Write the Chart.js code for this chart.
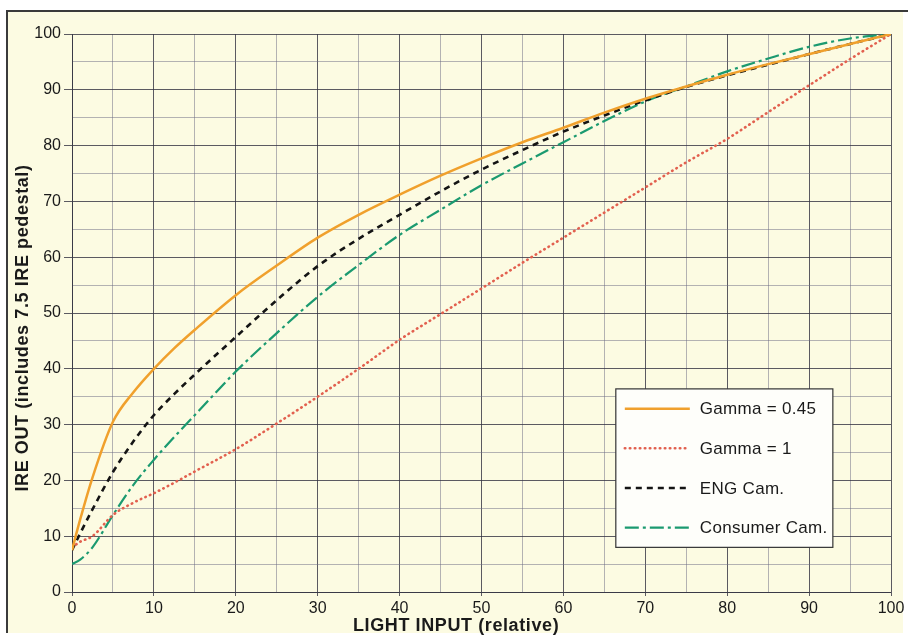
<!DOCTYPE html>
<html>
<head>
<meta charset="utf-8">
<script src="https://cdn.jsdelivr.net/npm/chart.js@4.4.1/dist/chart.umd.min.js"></script>
<style>
  html, body { margin: 0; padding: 0; background: #fff; }
  #wrap { width: 908px; height: 636px; position: relative; }
</style>
</head>
<body>
<div id="wrap"><canvas id="gammaChart"></canvas></div>
<script>
// values
const lightInput  = [0, 1, 2.5, 5, 7.5, 10, 12.5, 15, 20, 25, 30, 35, 40, 45, 50, 55, 60, 65, 70, 75, 80, 85, 90, 95, 100];
const gamma045    = [7.5, 13, 20.5, 30.5, 35.8, 40, 43.7, 47, 53.2, 58.5, 63.5, 67.6, 71.2, 74.6, 77.7, 80.6, 83.2, 85.9, 88.4, 90.6, 92.7, 94.6, 96.4, 98.2, 100];
const gamma1      = [8, 9, 10, 13.8, 16, 17.7, 19.6, 21.6, 25.6, 30.2, 35, 40, 45.2, 49.8, 54.4, 59, 63.5, 68, 72.5, 77, 81.2, 86, 90.8, 95.5, 100];
const engCam      = [7.5, 10.5, 14.8, 21.5, 27, 31.7, 35.5, 39, 45.7, 52.3, 58.4, 63.3, 67.6, 71.8, 75.7, 79.2, 82.5, 85.4, 88.1, 90.5, 92.6, 94.5, 96.4, 98.2, 100];
const consumerCam = [5, 5.8, 8, 13.8, 19.2, 23.7, 27.8, 31.7, 39.5, 46.4, 52.9, 58.6, 64, 68.5, 72.9, 76.8, 80.6, 84.4, 87.9, 90.6, 93.3, 95.6, 97.7, 99.2, 100];

const seriesLabels = ["Gamma = 0.45", "Gamma = 1", "ENG Cam.", "Consumer Cam."];
const majorTicks = [0, 10, 20, 30, 40, 50, 60, 70, 80, 90, 100];
const minorTicks = [5, 15, 25, 35, 45, 55, 65, 75, 85, 95];

const xTitle = "LIGHT INPUT (relative)";
const yTitle = "IRE OUT (includes 7.5 IRE pedestal)";

const FONT = "'Liberation Sans', Arial, Helvetica, sans-serif";

function toPoints(ys){
  return lightInput.map((x, i) => ({ x: x, y: ys[i] }));
}

function buildTicks(scale){
  scale.ticks = majorTicks.concat(minorTicks)
    .sort((a, b) => a - b)
    .map(v => ({ value: v }));
}

function isMajor(v){
  return majorTicks.indexOf(v) !== -1;
}

const paperPlugin = {
  id: "paper",
  beforeDraw(chart){
    const ctx = chart.ctx;
    ctx.save();
    ctx.fillStyle = "#ffffff";
    ctx.fillRect(0, 0, chart.width, chart.height);
    ctx.fillStyle = "#fcfbe2";
    ctx.fillRect(8, 12, chart.width - 13, chart.height - 15);
    ctx.strokeStyle = "#3a3a3a";
    ctx.lineWidth = 2;
    ctx.beginPath();
    ctx.moveTo(7, chart.height - 3);
    ctx.lineTo(7, 11);
    ctx.lineTo(chart.width, 11);
    ctx.stroke();
    ctx.restore();
  }
};

const legendBoxPlugin = {
  id: "legendBox",
  afterDatasetsDraw(chart){
    const ctx = chart.ctx;
    const xs = chart.scales.x, ys = chart.scales.y;
    const left = xs.getPixelForValue(66.4);
    const right = xs.getPixelForValue(92.9);
    const top = ys.getPixelForValue(36.4);
    const bottom = ys.getPixelForValue(8);
    ctx.save();
    ctx.fillStyle = "#fefefa";
    ctx.fillRect(left, top, right - left, bottom - top);
    ctx.strokeStyle = "#333";
    ctx.lineWidth = 1.2;
    ctx.strokeRect(left, top, right - left, bottom - top);
    const rowH = (bottom - top) / 4;
    chart.data.datasets.forEach((ds, i) => {
      const cy = top + rowH * (i + 0.5);
      ctx.save();
      ctx.strokeStyle = ds.borderColor;
      ctx.lineWidth = ds.borderWidth;
      ctx.lineCap = ds.borderCapStyle || "butt";
      ctx.setLineDash(ds.borderDash || []);
      ctx.beginPath();
      ctx.moveTo(left + 9, cy);
      ctx.lineTo(left + 74, cy);
      ctx.stroke();
      ctx.restore();
      ctx.save();
      ctx.fillStyle = "#1a1a1a";
      ctx.font = "17px " + FONT;
      ctx.letterSpacing = "0.3px";
      ctx.textBaseline = "middle";
      ctx.textAlign = "left";
      ctx.fillText(ds.label, left + 84, cy + 1);
      ctx.restore();
    });
    ctx.restore();
  }
};

const axisTitlePlugin = {
  id: "axisTitles",
  afterDraw(chart){
    const ctx = chart.ctx;
    const xs = chart.scales.x;
    ctx.save();
    ctx.fillStyle = "#1a1a1a";
    ctx.font = "bold 18px " + FONT;
    ctx.letterSpacing = "0.6px";
    ctx.textAlign = "center";
    ctx.textBaseline = "alphabetic";
    ctx.fillText(xTitle, xs.getPixelForValue(46.9), chart.height - 5);
    ctx.translate(23, 328);
    ctx.rotate(-Math.PI / 2);
    ctx.textBaseline = "middle";
    ctx.fillText(yTitle, 0, 0);
    ctx.restore();
  }
};

const gridMajor = "rgba(50,50,65,0.8)";
const gridMinor = "rgba(105,105,130,0.5)";

new Chart(document.getElementById("gammaChart"), {
  type: "line",
  data: {
    datasets: [
      {
        label: seriesLabels[0],
        data: toPoints(gamma045),
        borderColor: "#f0a02c",
        borderWidth: 2.5
      },
      {
        label: seriesLabels[1],
        data: toPoints(gamma1),
        borderColor: "#e2604f",
        borderWidth: 2.6,
        borderCapStyle: "round",
        borderDash: [0.5, 4.5]
      },
      {
        label: seriesLabels[2],
        data: toPoints(engCam),
        borderColor: "#141414",
        borderWidth: 2.6,
        borderDash: [6, 5]
      },
      {
        label: seriesLabels[3],
        data: toPoints(consumerCam),
        borderColor: "#1b9a70",
        borderWidth: 2.2,
        borderDash: [14, 4, 3, 4]
      }
    ]
  },
  options: {
    responsive: true,
    maintainAspectRatio: false,
    animation: false,
    cubicInterpolationMode: "monotone",
    elements: { point: { radius: 0 } },
    layout: { padding: { top: 34, right: 17, left: 0, bottom: 0 } },
    scales: {
      x: {
        type: "linear",
        min: 0,
        max: 100,
        afterBuildTicks: buildTicks,
        afterFit: function(scale){ scale.height = 44; },
        ticks: {
          autoSkip: false,
          maxRotation: 0,
          padding: 3,
          color: "#1a1a1a",
          font: { family: FONT, size: 16 },
          callback: function(v){ return isMajor(v) ? String(v) : ""; }
        },
        grid: {
          tickLength: 4,
          color: function(c){ return isMajor(c.tick.value) ? gridMajor : gridMinor; },
          tickColor: function(c){ return isMajor(c.tick.value) ? gridMajor : "rgba(0,0,0,0)"; }
        },
        border: { color: gridMajor }
      },
      y: {
        type: "linear",
        min: 0,
        max: 100,
        afterBuildTicks: buildTicks,
        afterFit: function(scale){ scale.width = 72; },
        ticks: {
          autoSkip: false,
          padding: 3,
          color: "#1a1a1a",
          font: { family: FONT, size: 16 },
          callback: function(v){ return isMajor(v) ? String(v) : ""; }
        },
        grid: {
          tickLength: 8,
          color: function(c){ return isMajor(c.tick.value) ? gridMajor : gridMinor; },
          tickColor: function(c){ return isMajor(c.tick.value) ? gridMajor : "rgba(0,0,0,0)"; }
        },
        border: { color: gridMajor }
      }
    },
    plugins: {
      legend: { display: false },
      tooltip: { enabled: false }
    }
  },
  plugins: [paperPlugin, legendBoxPlugin, axisTitlePlugin]
});
</script>
</body>
</html>
